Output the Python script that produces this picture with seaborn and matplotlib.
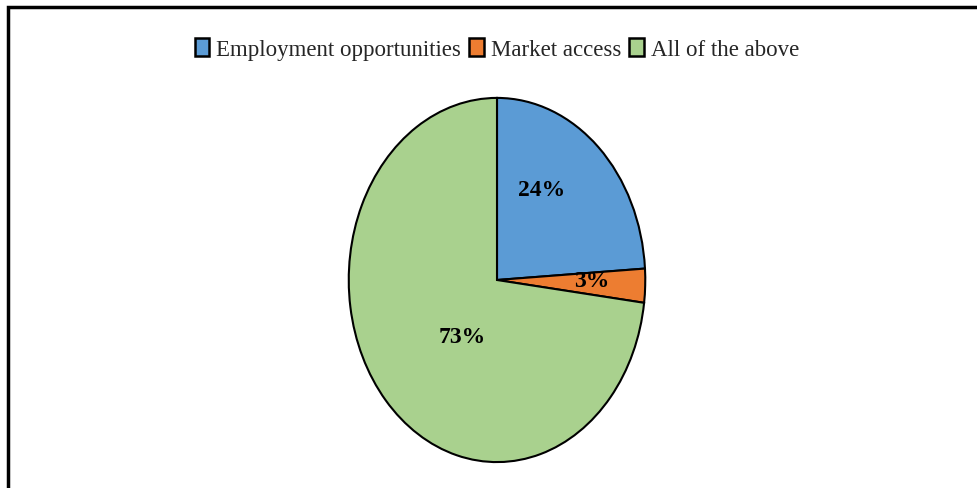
import matplotlib
matplotlib.use("Agg")
import matplotlib.pyplot as plt
import matplotlib.patches as mpatches
import seaborn as sns

categories = ["Employment opportunities", "Market access", "All of the above"]
shares = [24, 3, 73]
label_texts = ["24%", "3%", "73%"]
colors = ["#5B9BD5", "#ED7D31", "#A9D18E"]

sns.set_theme(style="white")
plt.rcParams["font.family"] = ["Liberation Serif", "DejaVu Serif"]

fig = plt.figure(figsize=(9.78, 4.89), dpi=100)
fig.patch.set_facecolor("white")

# frame around the chart area (open on the right and bottom)
frame = mpatches.Rectangle((8 / 978, -0.1), 1.2, 1 - 8 / 489 + 0.1,
                           transform=fig.transFigure, fill=False,
                           edgecolor="black", linewidth=2.5, zorder=0)
fig.patches.append(frame)

cx, cy, rx, ry = 497, 281, 149, 183
ax = fig.add_axes([(cx - rx) / 978, (489 - cy - ry) / 489, 2 * rx / 978, 2 * ry / 489])
wedges, _ = ax.pie(shares, colors=colors, startangle=90, counterclock=False,
                   wedgeprops=dict(edgecolor="black", linewidth=1.5),
                   radius=1.0, frame=False)
ax.set_aspect("auto")
ax.set_xlim(-1.005, 1.005)
ax.set_ylim(-1.005, 1.005)
ax.axis("off")

# value labels placed in each slice (pixel position converted to data coords)
label_pos = [(542, 190), (592, 282), (462, 338)]
for txt, (px, py) in zip(label_texts, label_pos):
    ax.text((px - cx) / rx, (cy - py) / ry, txt, ha="center", va="center",
            fontsize=17, fontweight="bold", color="black")

handles = [mpatches.Patch(facecolor=c, edgecolor="black", linewidth=1.8) for c in colors]
fig.legend(handles, categories, loc="center", bbox_to_anchor=(497 / 978, 1 - 50 / 489),
           ncol=3, frameon=False, fontsize=16.5, handlelength=0.65, handleheight=0.85,
           handletextpad=0.3, columnspacing=0.35, borderaxespad=0)

fig.savefig("out.png", dpi=100, facecolor="white")
